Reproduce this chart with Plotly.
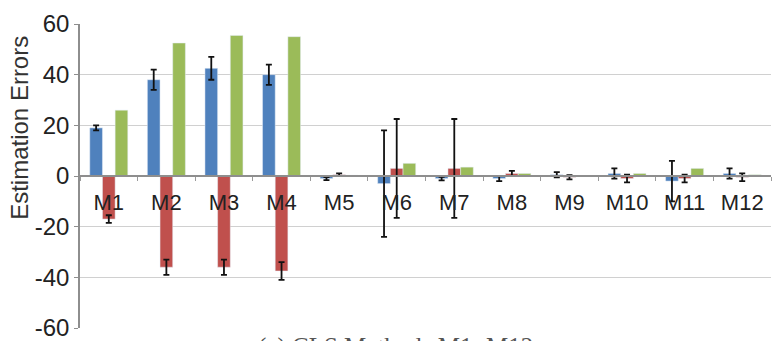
import plotly.graph_objects as go

categories = ["M1", "M2", "M3", "M4", "M5", "M6", "M7", "M8", "M9", "M10", "M11", "M12"]
blue_vals = [19, 38, 42.5, 40, -1, -3, -1, -1, 0.5, 1, -2, 1]
blue_err = [1, 4, 4.5, 4, 0.6, 21, 0.7, 1, 1, 2, 8, 2]
red_vals = [-17, -36, -36, -37.5, 0.5, 3, 3, 1, -0.5, -1, -1, -0.5]
red_err = [1.5, 3, 3, 3.5, 0.5, 19.5, 19.5, 1, 0.8, 1.5, 1.5, 1.5]
green_vals = [26, 52.5, 55.5, 55, 0.3, 5, 3.5, 1, 0.2, 1, 3, 0.5]
y_ticks = [-60, -40, -20, 0, 20, 40, 60]
y_tick_labels = ["-60", "-40", "-20", "0", "20", "40", "60"]

colors = ["#4F81BD", "#C0504D", "#9BBB59"]

fig = go.Figure()
err_style = dict(type="data", color="#111111", thickness=1.8, width=3)
fig.add_trace(go.Bar(x=categories, y=blue_vals, marker_color=colors[0],
                     error_y=dict(array=blue_err, **err_style)))
fig.add_trace(go.Bar(x=categories, y=red_vals, marker_color=colors[1],
                     error_y=dict(array=red_err, **err_style)))
fig.add_trace(go.Bar(x=categories, y=green_vals, marker_color=colors[2]))

fig.update_layout(
    width=772, height=341,
    margin=dict(l=80, r=1, t=24, b=13),
    plot_bgcolor="white", paper_bgcolor="white",
    barmode="group", bargap=0.34, bargroupgap=0.0,
    showlegend=False,
    font=dict(family="Liberation Sans, Arial, sans-serif", size=22, color="#222222"),
)
fig.update_xaxes(
    anchor="free", position=0.5,
    showline=True, linecolor="#8e8e8e", linewidth=1.5,
    ticks="outside", tickson="boundaries", ticklen=4, tickcolor="#9a9a9a",
    ticklabelstandoff=7,
    showgrid=False, tickfont=dict(size=22, color="#222222"),
)
fig.update_yaxes(
    range=[-60, 60], tickvals=y_ticks, ticktext=y_tick_labels,
    ticklabeloverflow="allow",
    showline=True, linecolor="#8e8e8e", linewidth=1.5,
    ticks="outside", ticklen=4, tickcolor="#8e8e8e",
    showgrid=True, gridcolor="#d0d0d0", gridwidth=1,
    zeroline=False,
    tickfont=dict(size=24, color="#222222"),
)
fig.add_annotation(text="Estimation Errors", xref="paper", yref="paper",
                   x=-0.0876, y=0.66, xanchor="center", yanchor="middle",
                   textangle=-90, showarrow=False,
                   font=dict(size=24, color="#333333"))
fig.add_annotation(text="(a) CLS Methods M1~M12", xref="paper", yref="paper",
                   x=0.456, y=0, yshift=-3, xanchor="center", yanchor="top",
                   showarrow=False, font=dict(family="Liberation Serif, serif", size=25, color="#555555"))

fig.write_html("out.html", config={"displayModeBar": False},
               post_script="document.body.style.margin='0';")
